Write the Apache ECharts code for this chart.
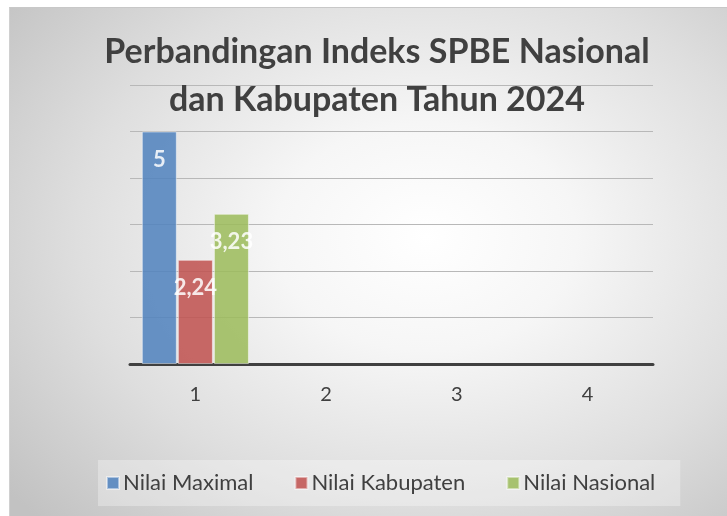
<!DOCTYPE html>
<html>
<head>
<meta charset="utf-8">
<script src="https://cdn.jsdelivr.net/npm/echarts@6/dist/echarts.min.js"></script>
<style>
	html, body { margin: 0; padding: 0; background: #fff; }
	#wrap { position: relative; width: 727px; height: 516px; overflow: hidden; }
	#bg {
		position: absolute; left: 9px; top: 7px; width: 718px; height: 509px;
		background: radial-gradient(ellipse 75% 80% at 58% 45%, #ffffff 0%, #f6f6f6 28%, #dedede 65%, #c2c2c2 100%);
		border-top: 1px solid #c8c8c8; border-left: 1px solid #d0d0d0; box-sizing: border-box;
	}
	#chart { position: absolute; left: 0; top: 0; width: 727px; height: 516px; }
</style>
</head>
<body>
<div id="wrap">
	<div id="bg"></div>
	<div id="chart"></div>
</div>
<script>
	// data
	var categories = ['1', '2', '3', '4'];
	var seriesNames = ['Nilai Maximal', 'Nilai Kabupaten', 'Nilai Nasional'];
	var nilaiMaximal = [5, null, null, null];
	var nilaiKabupaten = [2.24, null, null, null];
	var nilaiNasional = [3.23, null, null, null];
	var colors = ['#4F81BD', '#C0504D', '#9BBB59'];

	var myChart = echarts.init(document.getElementById('chart'));

	function makeSeries(name, data, color) {
		return {
			name: name,
			type: 'bar',
			data: data,
			barWidth: 35,
			barGap: '3%',
			itemStyle: {
				color: color,
				opacity: 0.85,
				borderColor: 'rgba(255,255,255,0.55)',
				borderWidth: 1
			},
			label: {
				show: true,
				position: 'insideTop',
				distance: 17,
				color: '#ffffff',
				fontFamily: 'Lato',
				fontWeight: 'bold',
				fontSize: 22,
				formatter: function (p) {
					return String(p.value).replace('.', ',');
				}
			}
		};
	}

	myChart.setOption({
		backgroundColor: 'transparent',
		animation: false,
		title: {
			text: 'Perbandingan Indeks SPBE Nasional\ndan Kabupaten Tahun 2024',
			left: 372,
			top: 23,
			textAlign: 'center',
			textStyle: {
				fontFamily: 'Lato',
				fontWeight: 'bold',
				fontSize: 34,
				lineHeight: 48,
				color: '#404040'
			}
		},
		legend: {
			data: seriesNames,
			left: 98,
			top: 460,
			padding: [12, 25, 12, 8],
			backgroundColor: 'rgba(255,255,255,0.3)',
			icon: 'rect',
			itemWidth: 12,
			itemHeight: 12,
			itemGap: 41,
			textStyle: {
				fontFamily: 'Lato',
				fontSize: 22,
				color: '#404040',
				padding: [0, 0, 0, -1]
			}
		},
		grid: {
			left: 130,
			right: 74,
			top: 85,
			bottom: 152,
			containLabel: false
		},
		xAxis: [{
			type: 'category',
			data: categories,
			axisLine: { lineStyle: { color: '#404040', width: 3 } },
			axisTick: { show: false },
			axisLabel: {
				margin: 21,
				fontFamily: 'Lato',
				fontSize: 20,
				color: '#404040'
			}
		}],
		yAxis: [{
			type: 'value',
			min: 0,
			max: 6,
			interval: 1,
			axisLabel: { show: false },
			axisLine: { show: false },
			axisTick: { show: false },
			splitLine: { lineStyle: { color: '#b8b8b8', width: 1.2 } }
		}],
		series: [
			makeSeries(seriesNames[0], nilaiMaximal, colors[0]),
			makeSeries(seriesNames[1], nilaiKabupaten, colors[1]),
			makeSeries(seriesNames[2], nilaiNasional, colors[2])
		]
	});
</script>
</body>
</html>
